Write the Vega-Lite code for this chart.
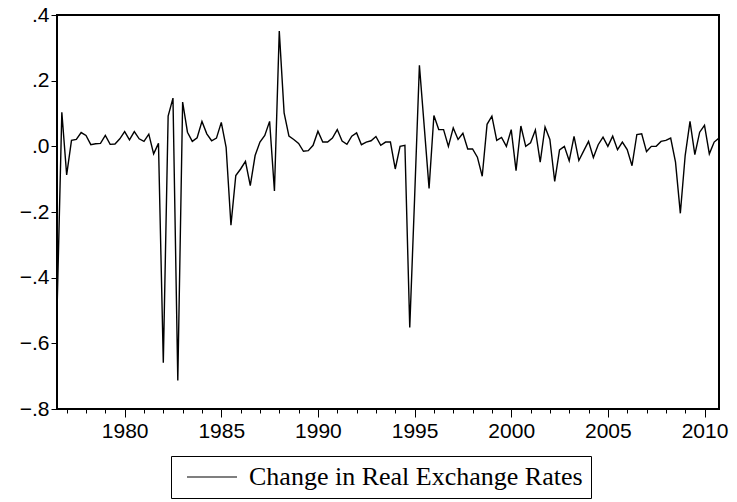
{
  "$schema": "https://vega.github.io/schema/vega-lite/v6.json",
  "width": 662,
  "height": 394,
  "autosize": "none",
  "padding": {"left": 57, "top": 15, "right": 18, "bottom": 93},
  "background": "white",
  "config": {
    "view": {"stroke": "black", "strokeWidth": 2},
    "axis": {"domain": false, "grid": false, "tickColor": "black", "labelColor": "black", "labelFont": "Liberation Sans", "labelFontSize": 21, "title": null},
    "legend": {"strokeColor": "black", "strokeWidth": 1, "padding": 8}
  },
  "data": {"values": [
    {"t":1976.5,"v":-0.506},{"t":1976.75,"v":0.104},{"t":1977,"v":-0.087},{"t":1977.25,"v":0.018},
    {"t":1977.5,"v":0.021},{"t":1977.75,"v":0.042},{"t":1978,"v":0.033},{"t":1978.25,"v":0.005},
    {"t":1978.5,"v":0.008},{"t":1978.75,"v":0.009},{"t":1979,"v":0.033},{"t":1979.25,"v":0.006},
    {"t":1979.5,"v":0.007},{"t":1979.75,"v":0.023},{"t":1980,"v":0.045},{"t":1980.25,"v":0.020},
    {"t":1980.5,"v":0.045},{"t":1980.75,"v":0.023},{"t":1981,"v":0.015},{"t":1981.25,"v":0.037},
    {"t":1981.5,"v":-0.023},{"t":1981.75,"v":0.009},{"t":1982,"v":-0.659},{"t":1982.25,"v":0.092},
    {"t":1982.5,"v":0.147},{"t":1982.75,"v":-0.713},{"t":1983,"v":0.135},{"t":1983.25,"v":0.043},
    {"t":1983.5,"v":0.015},{"t":1983.75,"v":0.026},{"t":1984,"v":0.076},{"t":1984.25,"v":0.038},
    {"t":1984.5,"v":0.017},{"t":1984.75,"v":0.025},{"t":1985,"v":0.073},{"t":1985.25,"v":-0.003},
    {"t":1985.5,"v":-0.240},{"t":1985.75,"v":-0.089},{"t":1986,"v":-0.069},{"t":1986.25,"v":-0.046},
    {"t":1986.5,"v":-0.120},{"t":1986.75,"v":-0.028},{"t":1987,"v":0.013},{"t":1987.25,"v":0.033},
    {"t":1987.5,"v":0.076},{"t":1987.75,"v":-0.136},{"t":1988,"v":0.351},{"t":1988.25,"v":0.102},
    {"t":1988.5,"v":0.031},{"t":1988.75,"v":0.021},{"t":1989,"v":0.009},{"t":1989.25,"v":-0.015},
    {"t":1989.5,"v":-0.013},{"t":1989.75,"v":0.003},{"t":1990,"v":0.046},{"t":1990.25,"v":0.013},
    {"t":1990.5,"v":0.013},{"t":1990.75,"v":0.025},{"t":1991,"v":0.051},{"t":1991.25,"v":0.016},
    {"t":1991.5,"v":0.006},{"t":1991.75,"v":0.031},{"t":1992,"v":0.041},{"t":1992.25,"v":0.005},
    {"t":1992.5,"v":0.013},{"t":1992.75,"v":0.017},{"t":1993,"v":0.030},{"t":1993.25,"v":0.003},
    {"t":1993.5,"v":0.013},{"t":1993.75,"v":0.013},{"t":1994,"v":-0.069},{"t":1994.25,"v":0.000},
    {"t":1994.5,"v":0.003},{"t":1994.75,"v":-0.552},{"t":1995,"v":-0.160},{"t":1995.25,"v":0.247},
    {"t":1995.5,"v":0.060},{"t":1995.75,"v":-0.128},{"t":1996,"v":0.094},{"t":1996.25,"v":0.051},
    {"t":1996.5,"v":0.051},{"t":1996.75,"v":0.000},{"t":1997,"v":0.056},{"t":1997.25,"v":0.021},
    {"t":1997.5,"v":0.040},{"t":1997.75,"v":-0.008},{"t":1998,"v":-0.008},{"t":1998.25,"v":-0.033},
    {"t":1998.5,"v":-0.091},{"t":1998.75,"v":0.067},{"t":1999,"v":0.092},{"t":1999.25,"v":0.018},
    {"t":1999.5,"v":0.027},{"t":1999.75,"v":0.000},{"t":2000,"v":0.051},{"t":2000.25,"v":-0.074},
    {"t":2000.5,"v":0.062},{"t":2000.75,"v":0.000},{"t":2001,"v":0.011},{"t":2001.25,"v":0.050},
    {"t":2001.5,"v":-0.048},{"t":2001.75,"v":0.059},{"t":2002,"v":0.021},{"t":2002.25,"v":-0.107},
    {"t":2002.5,"v":-0.011},{"t":2002.75,"v":0.000},{"t":2003,"v":-0.044},{"t":2003.25,"v":0.030},
    {"t":2003.5,"v":-0.043},{"t":2003.75,"v":-0.014},{"t":2004,"v":0.015},{"t":2004.25,"v":-0.034},
    {"t":2004.5,"v":0.005},{"t":2004.75,"v":0.028},{"t":2005,"v":0.000},{"t":2005.25,"v":0.031},
    {"t":2005.5,"v":-0.010},{"t":2005.75,"v":0.013},{"t":2006,"v":-0.010},{"t":2006.25,"v":-0.059},
    {"t":2006.5,"v":0.036},{"t":2006.75,"v":0.038},{"t":2007,"v":-0.016},{"t":2007.25,"v":0.000},
    {"t":2007.5,"v":0.000},{"t":2007.75,"v":0.015},{"t":2008,"v":0.018},{"t":2008.25,"v":0.025},
    {"t":2008.5,"v":-0.048},{"t":2008.75,"v":-0.204},{"t":2009,"v":-0.028},{"t":2009.25,"v":0.076},
    {"t":2009.5,"v":-0.025},{"t":2009.75,"v":0.043},{"t":2010,"v":0.064},{"t":2010.25,"v":-0.023},
    {"t":2010.5,"v":0.013},{"t":2010.75,"v":0.025}
  ]},
  "layer": [
    {
      "mark": {"type": "line", "strokeWidth": 1.4, "clip": true},
      "encoding": {
        "x": {"field": "t", "type": "quantitative",
              "scale": {"domain": [1976.5, 2010.75], "nice": false, "zero": false},
              "axis": {"orient": "bottom", "values": [1980, 1985, 1990, 1995, 2000, 2005, 2010], "format": "d", "tickSize": 8, "labelPadding": 3}},
        "y": {"field": "v", "type": "quantitative",
              "scale": {"domain": [-0.8, 0.4], "nice": false, "zero": false},
              "axis": {"values": [-0.8, -0.6, -0.4, -0.2, 0, 0.2, 0.4], "tickSize": 6, "labelPadding": 2,
                       "labelExpr": "replace(format(datum.value, '.1f'), '0.', '.')"}},
        "color": {"datum": "Change in Real Exchange Rates", "type": "nominal",
                  "scale": {"range": ["black"]},
                  "legend": {"title": null, "orient": "none", "legendX": 114, "legendY": 441,
                             "symbolType": "M-1,0H9", "symbolSize": 100, "symbolStrokeWidth": 1.2,
                             "symbolStrokeColor": "black", "symbolOffset": 0,
                             "labelFont": "Liberation Serif", "labelFontSize": 26, "labelColor": "black",
                             "labelOffset": 44, "labelLimit": 600}}
      }
    },
    {
      "mark": {"type": "line", "strokeOpacity": 0},
      "encoding": {
        "x": {"field": "t", "type": "quantitative",
              "scale": {"domain": [1976.5, 2010.75], "nice": false, "zero": false},
              "axis": {"orient": "bottom", "values": [1977,1978,1979,1980,1981,1982,1983,1984,1985,1986,1987,1988,1989,1990,1991,1992,1993,1994,1995,1996,1997,1998,1999,2000,2001,2002,2003,2004,2005,2006,2007,2008,2009,2010],
                       "labels": false, "tickSize": 4}},
        "y": {"field": "v", "type": "quantitative", "scale": {"domain": [-0.8, 0.4], "nice": false, "zero": false}}
      }
    }
  ],
  "resolve": {"axis": {"x": "independent"}}
}
